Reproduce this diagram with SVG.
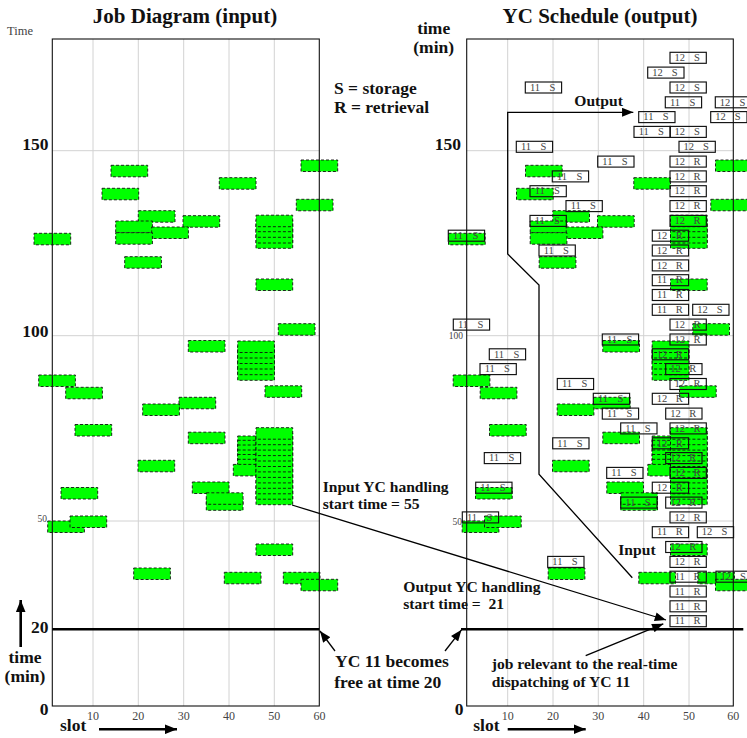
<svg xmlns="http://www.w3.org/2000/svg" xmlns:xlink="http://www.w3.org/1999/xlink" width="747" height="738" viewBox="0 0 747 738">
<style>
.t{font-family:"Liberation Serif","Times New Roman",serif;font-weight:bold;fill:#111}
.ttl{font-size:21px;text-anchor:middle}
.lg{font-size:17.5px}
.md{font-size:15.6px}
.end{text-anchor:end}
.mid{text-anchor:middle}
.sm{font-family:"Liberation Serif","Times New Roman",serif;fill:#444}
.tick{font-size:12px;text-anchor:middle}
.grid{stroke:#d2d2d2;stroke-width:1}
.frame{fill:none;stroke:#111;stroke-width:1.1}
.b{fill:#00ff00;stroke:#111;stroke-width:0.9;stroke-dasharray:3 2}
.bx{fill:none;stroke:#111;stroke-width:1.15}
.bl{font-family:"Liberation Serif","Times New Roman",serif;font-size:10.5px;fill:#444;text-anchor:middle}
.ln{fill:none;stroke:#000;stroke-width:1.3}
.thick{fill:none;stroke:#000;stroke-width:2.6}
</style>
<defs>
<marker id="ah" viewBox="0 0 10 8" refX="10" refY="4" markerWidth="12" markerHeight="9" markerUnits="userSpaceOnUse" orient="auto"><path d="M0,0L10,4L0,8z" fill="#000"/></marker>
<marker id="ahb" viewBox="0 0 10 8" refX="10" refY="4" markerWidth="12" markerHeight="10" markerUnits="userSpaceOnUse" orient="auto"><path d="M0,0L10,4L0,8z" fill="#000"/></marker>
</defs>
<rect width="747" height="738" fill="#fff"/>

<!-- grids -->
<g id="grid-left">
<path class="grid" d="M93,39V706M138.3,39V706M183.7,39V706M229,39V706M274.3,39V706M52.3,150.7H319.3M52.3,335.7H319.3M52.3,521H319.3"/>
</g>
<g id="grid-right">
<path class="grid" d="M507.7,39V706M553,39V706M598.3,39V706M643.7,39V706M689,39V706M466.7,150.7H733.3M466.7,335.7H733.3M466.7,521H733.3"/>
</g>

<!-- input jobs (green blocks) -->
<g id="jobs">
<rect class="b" width="36.7" height="11.5" x="301" y="160"/>
<rect class="b" width="36.7" height="11.5" x="111" y="165.3"/>
<rect class="b" width="36.7" height="11.5" x="219.3" y="177.7"/>
<rect class="b" width="36.7" height="11.5" x="102" y="188.3"/>
<rect class="b" width="36.7" height="11.5" x="296.3" y="199.3"/>
<rect class="b" width="36.7" height="11.5" x="138.3" y="210.7"/>
<rect class="b" width="36.7" height="11.5" x="183" y="215.7"/>
<rect class="b" width="36.7" height="11.5" x="115.7" y="221"/>
<rect class="b" width="36.7" height="11.5" x="151.7" y="227"/>
<rect class="b" width="36.7" height="11.5" x="115.7" y="232.7"/>
<rect class="b" width="36.7" height="11.5" x="34" y="233.3"/>
<rect class="b" width="36.7" height="11.5" x="256" y="236.8"/>
<rect class="b" width="36.7" height="11.5" x="256" y="231.5"/>
<rect class="b" width="36.7" height="11.5" x="256" y="225.8"/>
<rect class="b" width="36.7" height="11.5" x="256" y="220.2"/>
<rect class="b" width="36.7" height="11.5" x="256" y="215.2"/>
<rect class="b" width="36.7" height="11.5" x="124.7" y="256.7"/>
<rect class="b" width="36.7" height="11.5" x="256" y="279"/>
<rect class="b" width="36.7" height="11.5" x="278.3" y="323.7"/>
<rect class="b" width="36.7" height="11.5" x="188.3" y="340.5"/>
<rect class="b" width="36.7" height="11.5" x="237.7" y="368.8"/>
<rect class="b" width="36.7" height="11.5" x="237.7" y="363.2"/>
<rect class="b" width="36.7" height="11.5" x="237.7" y="357.5"/>
<rect class="b" width="36.7" height="11.5" x="237.7" y="352"/>
<rect class="b" width="36.7" height="11.5" x="237.7" y="346.5"/>
<rect class="b" width="36.7" height="11.5" x="237.7" y="341"/>
<rect class="b" width="36.7" height="11.5" x="38.7" y="375"/>
<rect class="b" width="36.7" height="11.5" x="65.7" y="387.3"/>
<rect class="b" width="36.7" height="11.5" x="265" y="385.8"/>
<rect class="b" width="36.7" height="11.5" x="179" y="397.3"/>
<rect class="b" width="36.7" height="11.5" x="142.7" y="404"/>
<rect class="b" width="36.7" height="11.5" x="75" y="424.5"/>
<rect class="b" width="36.7" height="11.5" x="188.3" y="432.2"/>
<rect class="b" width="36.7" height="11.5" x="237.7" y="436"/>
<rect class="b" width="36.7" height="11.5" x="237.7" y="440.3"/>
<rect class="b" width="36.7" height="11.5" x="237.7" y="445"/>
<rect class="b" width="36.7" height="11.5" x="237.7" y="450"/>
<rect class="b" width="36.7" height="11.5" x="237.7" y="454.5"/>
<rect class="b" width="36.7" height="11.5" x="237.7" y="459.3"/>
<rect class="b" width="36.7" height="11.5" x="233.3" y="464.4"/>
<rect class="b" width="36.7" height="11.5" x="256" y="493.2"/>
<rect class="b" width="36.7" height="11.5" x="256" y="487.7"/>
<rect class="b" width="36.7" height="11.5" x="256" y="482.3"/>
<rect class="b" width="36.7" height="11.5" x="256" y="476.8"/>
<rect class="b" width="36.7" height="11.5" x="256" y="471.4"/>
<rect class="b" width="36.7" height="11.5" x="256" y="465.9"/>
<rect class="b" width="36.7" height="11.5" x="256" y="460.4"/>
<rect class="b" width="36.7" height="11.5" x="256" y="455"/>
<rect class="b" width="36.7" height="11.5" x="256" y="449.5"/>
<rect class="b" width="36.7" height="11.5" x="256" y="444.1"/>
<rect class="b" width="36.7" height="11.5" x="256" y="438.6"/>
<rect class="b" width="36.7" height="11.5" x="256" y="433.2"/>
<rect class="b" width="36.7" height="11.5" x="256" y="427.7"/>
<rect class="b" width="36.7" height="11.5" x="138" y="460.3"/>
<rect class="b" width="36.7" height="11.5" x="61" y="487.5"/>
<rect class="b" width="36.7" height="11.5" x="192.3" y="482"/>
<rect class="b" width="36.7" height="11.5" x="206.3" y="498.8"/>
<rect class="b" width="36.7" height="11.5" x="206.3" y="492.8"/>
<rect class="b" width="36.7" height="11.5" x="47.7" y="521"/>
<rect class="b" width="36.7" height="11.5" x="70" y="516"/>
<rect class="b" width="36.7" height="11.5" x="256" y="544"/>
<rect class="b" width="36.7" height="11.5" x="133.7" y="568"/>
<rect class="b" width="36.7" height="11.5" x="224.3" y="572.3"/>
<rect class="b" width="36.7" height="11.5" x="283.3" y="572.3"/>
<rect class="b" width="36.7" height="11.5" x="301" y="579.3"/>
</g>
<g id="jobs-copy">
<use href="#jobs" xlink:href="#jobs" x="414.5" y="0"/>
</g>

<!-- frames -->
<g id="frame-left"><rect class="frame" x="52.3" y="39" width="267" height="667"/></g>
<g id="frame-right"><rect class="frame" x="466.7" y="39" width="266.6" height="667"/></g>

<!-- YC schedule boxes -->
<g id="schedule">
<g id="r0a" transform="translate(670,52.3)"><rect class="bx" width="36.3" height="11"/><text class="bl" x="9.7" y="8.7">12<tspan x="27">S</tspan></text></g>
<g id="r1a" transform="translate(647.7,67.1)"><rect class="bx" width="36.3" height="11"/><text class="bl" x="9.7" y="8.7">12<tspan x="27">S</tspan></text></g>
<g id="r2a" transform="translate(525.3,82)"><rect class="bx" width="36.3" height="11"/><text class="bl" x="9.7" y="8.7">11<tspan x="27">S</tspan></text></g>
<g id="r2b" transform="translate(670,82)"><rect class="bx" width="36.3" height="11"/><text class="bl" x="9.7" y="8.7">12<tspan x="27">S</tspan></text></g>
<g id="r3a" transform="translate(665.3,96.8)"><rect class="bx" width="36.3" height="11"/><text class="bl" x="9.7" y="8.7">11<tspan x="27">S</tspan></text></g>
<g id="r3b" transform="translate(715.3,96.8)"><rect class="bx" width="36.3" height="11"/><text class="bl" x="9.7" y="8.7">12<tspan x="27">S</tspan></text></g>
<g id="r4a" transform="translate(638.7,111.6)"><rect class="bx" width="36.3" height="11"/><text class="bl" x="9.7" y="8.7">11<tspan x="27">S</tspan></text></g>
<g id="r4b" transform="translate(710.7,111.6)"><rect class="bx" width="36.3" height="11"/><text class="bl" x="9.7" y="8.7">12<tspan x="27">S</tspan></text></g>
<g id="r5a" transform="translate(634,126.4)"><rect class="bx" width="36.3" height="11"/><text class="bl" x="9.7" y="8.7">11<tspan x="27">S</tspan></text></g>
<g id="r5b" transform="translate(670,126.4)"><rect class="bx" width="36.3" height="11"/><text class="bl" x="9.7" y="8.7">12<tspan x="27">S</tspan></text></g>
<g id="r6a" transform="translate(516.3,141.3)"><rect class="bx" width="36.3" height="11"/><text class="bl" x="9.7" y="8.7">11<tspan x="27">S</tspan></text></g>
<g id="r6b" transform="translate(679,141.3)"><rect class="bx" width="36.3" height="11"/><text class="bl" x="9.7" y="8.7">12<tspan x="27">S</tspan></text></g>
<g id="r7a" transform="translate(597.7,156.1)"><rect class="bx" width="36.3" height="11"/><text class="bl" x="9.7" y="8.7">11<tspan x="27">S</tspan></text></g>
<g id="r7b" transform="translate(670,156.1)"><rect class="bx" width="36.3" height="11"/><text class="bl" x="9.7" y="8.7">12<tspan x="27">R</tspan></text></g>
<g id="r8a" transform="translate(552.3,170.9)"><rect class="bx" width="36.3" height="11"/><text class="bl" x="9.7" y="8.7">11<tspan x="27">S</tspan></text></g>
<g id="r8b" transform="translate(670,170.9)"><rect class="bx" width="36.3" height="11"/><text class="bl" x="9.7" y="8.7">12<tspan x="27">R</tspan></text></g>
<g id="r9a" transform="translate(530,185.7)"><rect class="bx" width="36.3" height="11"/><text class="bl" x="9.7" y="8.7">11<tspan x="27">S</tspan></text></g>
<g id="r9b" transform="translate(670,185.7)"><rect class="bx" width="36.3" height="11"/><text class="bl" x="9.7" y="8.7">12<tspan x="27">R</tspan></text></g>
<g id="r10a" transform="translate(566,200.6)"><rect class="bx" width="36.3" height="11"/><text class="bl" x="9.7" y="8.7">11<tspan x="27">S</tspan></text></g>
<g id="r10b" transform="translate(670,200.6)"><rect class="bx" width="36.3" height="11"/><text class="bl" x="9.7" y="8.7">12<tspan x="27">R</tspan></text></g>
<g id="r11a" transform="translate(530,215.4)"><rect class="bx" width="36.3" height="11"/><text class="bl" x="9.7" y="8.7">11<tspan x="27">S</tspan></text></g>
<g id="r11b" transform="translate(670,215.4)"><rect class="bx" width="36.3" height="11"/><text class="bl" x="9.7" y="8.7">12<tspan x="27">R</tspan></text></g>
<g id="r12a" transform="translate(448.3,230.2)"><rect class="bx" width="36.3" height="11"/><text class="bl" x="9.7" y="8.7">11<tspan x="27">S</tspan></text></g>
<g id="r12b" transform="translate(652.3,230.2)"><rect class="bx" width="36.3" height="11"/><text class="bl" x="9.7" y="8.7">12<tspan x="27">R</tspan></text></g>
<g id="r13a" transform="translate(539,245)"><rect class="bx" width="36.3" height="11"/><text class="bl" x="9.7" y="8.7">11<tspan x="27">S</tspan></text></g>
<g id="r13b" transform="translate(652.3,245)"><rect class="bx" width="36.3" height="11"/><text class="bl" x="9.7" y="8.7">12<tspan x="27">R</tspan></text></g>
<g id="r14a" transform="translate(652.3,259.9)"><rect class="bx" width="36.3" height="11"/><text class="bl" x="9.7" y="8.7">12<tspan x="27">R</tspan></text></g>
<g id="r15a" transform="translate(652.3,274.7)"><rect class="bx" width="36.3" height="11"/><text class="bl" x="9.7" y="8.7">11<tspan x="27">R</tspan></text></g>
<g id="r16a" transform="translate(652.3,289.5)"><rect class="bx" width="36.3" height="11"/><text class="bl" x="9.7" y="8.7">11<tspan x="27">R</tspan></text></g>
<g id="r17a" transform="translate(652.3,304.3)"><rect class="bx" width="36.3" height="11"/><text class="bl" x="9.7" y="8.7">11<tspan x="27">R</tspan></text></g>
<g id="r17b" transform="translate(692.7,304.3)"><rect class="bx" width="36.3" height="11"/><text class="bl" x="9.7" y="8.7">12<tspan x="27">S</tspan></text></g>
<g id="r18a" transform="translate(453.3,319.1)"><rect class="bx" width="36.3" height="11"/><text class="bl" x="9.7" y="8.7">11<tspan x="27">S</tspan></text></g>
<g id="r18b" transform="translate(670,319.1)"><rect class="bx" width="36.3" height="11"/><text class="bl" x="9.7" y="8.7">12<tspan x="27">R</tspan></text></g>
<g id="r19a" transform="translate(602.3,334)"><rect class="bx" width="36.3" height="11"/><text class="bl" x="9.7" y="8.7">11<tspan x="27">S</tspan></text></g>
<g id="r19b" transform="translate(670,334)"><rect class="bx" width="36.3" height="11"/><text class="bl" x="9.7" y="8.7">12<tspan x="27">R</tspan></text></g>
<g id="r20a" transform="translate(489.3,348.8)"><rect class="bx" width="36.3" height="11"/><text class="bl" x="9.7" y="8.7">11<tspan x="27">S</tspan></text></g>
<g id="r20b" transform="translate(652.3,348.8)"><rect class="bx" width="36.3" height="11"/><text class="bl" x="9.7" y="8.7">12<tspan x="27">R</tspan></text></g>
<g id="r21a" transform="translate(480,363.6)"><rect class="bx" width="36.3" height="11"/><text class="bl" x="9.7" y="8.7">11<tspan x="27">S</tspan></text></g>
<g id="r21b" transform="translate(665.7,363.6)"><rect class="bx" width="36.3" height="11"/><text class="bl" x="9.7" y="8.7">12<tspan x="27">R</tspan></text></g>
<g id="r22a" transform="translate(557.3,378.5)"><rect class="bx" width="36.3" height="11"/><text class="bl" x="9.7" y="8.7">11<tspan x="27">S</tspan></text></g>
<g id="r22b" transform="translate(670,378.5)"><rect class="bx" width="36.3" height="11"/><text class="bl" x="9.7" y="8.7">12<tspan x="27">R</tspan></text></g>
<g id="r23a" transform="translate(593.3,393.3)"><rect class="bx" width="36.3" height="11"/><text class="bl" x="9.7" y="8.7">11<tspan x="27">S</tspan></text></g>
<g id="r23b" transform="translate(652.3,393.3)"><rect class="bx" width="36.3" height="11"/><text class="bl" x="9.7" y="8.7">12<tspan x="27">R</tspan></text></g>
<g id="r24a" transform="translate(602.3,408.1)"><rect class="bx" width="36.3" height="11"/><text class="bl" x="9.7" y="8.7">11<tspan x="27">S</tspan></text></g>
<g id="r24b" transform="translate(665.7,408.1)"><rect class="bx" width="36.3" height="11"/><text class="bl" x="9.7" y="8.7">12<tspan x="27">R</tspan></text></g>
<g id="r25a" transform="translate(620.7,422.9)"><rect class="bx" width="36.3" height="11"/><text class="bl" x="9.7" y="8.7">11<tspan x="27">S</tspan></text></g>
<g id="r25b" transform="translate(670,422.9)"><rect class="bx" width="36.3" height="11"/><text class="bl" x="9.7" y="8.7">12<tspan x="27">R</tspan></text></g>
<g id="r26a" transform="translate(552.7,437.8)"><rect class="bx" width="36.3" height="11"/><text class="bl" x="9.7" y="8.7">11<tspan x="27">S</tspan></text></g>
<g id="r26b" transform="translate(652.3,437.8)"><rect class="bx" width="36.3" height="11"/><text class="bl" x="9.7" y="8.7">12<tspan x="27">R</tspan></text></g>
<g id="r27a" transform="translate(484.3,452.6)"><rect class="bx" width="36.3" height="11"/><text class="bl" x="9.7" y="8.7">11<tspan x="27">S</tspan></text></g>
<g id="r27b" transform="translate(665.7,452.6)"><rect class="bx" width="36.3" height="11"/><text class="bl" x="9.7" y="8.7">12<tspan x="27">R</tspan></text></g>
<g id="r28a" transform="translate(606.7,467.4)"><rect class="bx" width="36.3" height="11"/><text class="bl" x="9.7" y="8.7">11<tspan x="27">S</tspan></text></g>
<g id="r28b" transform="translate(670,467.4)"><rect class="bx" width="36.3" height="11"/><text class="bl" x="9.7" y="8.7">12<tspan x="27">R</tspan></text></g>
<g id="r29a" transform="translate(475.7,482.2)"><rect class="bx" width="36.3" height="11"/><text class="bl" x="9.7" y="8.7">11<tspan x="27">S</tspan></text></g>
<g id="r29b" transform="translate(652.3,482.2)"><rect class="bx" width="36.3" height="11"/><text class="bl" x="9.7" y="8.7">12<tspan x="27">R</tspan></text></g>
<g id="r30a" transform="translate(620.7,497.1)"><rect class="bx" width="36.3" height="11"/><text class="bl" x="9.7" y="8.7">11<tspan x="27">S</tspan></text></g>
<g id="r30b" transform="translate(665.7,497.1)"><rect class="bx" width="36.3" height="11"/><text class="bl" x="9.7" y="8.7">12<tspan x="27">R</tspan></text></g>
<g id="r31a" transform="translate(462.3,511.9)"><rect class="bx" width="36.3" height="11"/><text class="bl" x="9.7" y="8.7">11<tspan x="27">S</tspan></text></g>
<g id="r31b" transform="translate(670,511.9)"><rect class="bx" width="36.3" height="11"/><text class="bl" x="9.7" y="8.7">12<tspan x="27">R</tspan></text></g>
<g id="r32a" transform="translate(652.3,526.7)"><rect class="bx" width="36.3" height="11"/><text class="bl" x="9.7" y="8.7">11<tspan x="27">R</tspan></text></g>
<g id="r32b" transform="translate(697.3,526.7)"><rect class="bx" width="36.3" height="11"/><text class="bl" x="9.7" y="8.7">12<tspan x="27">S</tspan></text></g>
<g id="r33a" transform="translate(665.7,541.5)"><rect class="bx" width="36.3" height="11"/><text class="bl" x="9.7" y="8.7">12<tspan x="27">R</tspan></text></g>
<g id="r34a" transform="translate(547.7,556.4)"><rect class="bx" width="36.3" height="11"/><text class="bl" x="9.7" y="8.7">11<tspan x="27">S</tspan></text></g>
<g id="r34b" transform="translate(670,556.4)"><rect class="bx" width="36.3" height="11"/><text class="bl" x="9.7" y="8.7">12<tspan x="27">R</tspan></text></g>
<g id="r35a" transform="translate(670,571.2)"><rect class="bx" width="36.3" height="11"/><text class="bl" x="9.7" y="8.7">11<tspan x="27">R</tspan></text></g>
<g id="r35b" transform="translate(716,571.2)"><rect class="bx" width="36.3" height="11"/><text class="bl" x="9.7" y="8.7">12<tspan x="27">S</tspan></text></g>
<g id="r36a" transform="translate(670,586)"><rect class="bx" width="36.3" height="11"/><text class="bl" x="9.7" y="8.7">11<tspan x="27">R</tspan></text></g>
<g id="r37a" transform="translate(670,600.8)"><rect class="bx" width="36.3" height="11"/><text class="bl" x="9.7" y="8.7">11<tspan x="27">R</tspan></text></g>
<g id="r38a" transform="translate(670,615.7)"><rect class="bx" width="36.3" height="11"/><text class="bl" x="9.7" y="8.7">11<tspan x="27">R</tspan></text></g>
</g>

<!-- connectors -->
<g id="connectors">
<path id="time20-left" class="thick" d="M52.3,629.3H319.3"/>
<path id="time20-right" class="thick" d="M461,629.3H743.3"/>
<path id="time-axis-arrow" class="thick" d="M20.7,647V600" marker-end="url(#ahb)"/>
<path id="slot-arrow-left" class="thick" d="M99,729.3H177" marker-end="url(#ahb)"/>
<path id="slot-arrow-right" class="thick" d="M507.7,729.3H585.7" marker-end="url(#ahb)"/>
<path id="free-arrow-left" class="ln" d="M335,651L320,631" marker-end="url(#ah)"/>
<path id="free-arrow-right" class="ln" d="M445,651L461.5,629.8" marker-end="url(#ah)"/>
<path id="input-arrow" class="ln" d="M292,505L666,620" marker-end="url(#ah)"/>
<path id="relevant-arrow" class="ln" d="M585.7,655.7L663.3,623.8" marker-end="url(#ah)"/>
<path id="flow-arrow" class="ln" d="M632.3,577.7L539,474.3L539,285L507.7,254L507.7,112.3L633.3,112.3" marker-end="url(#ah)"/>
</g>

<!-- labels -->
<g id="labels">
<text class="t ttl" x="185" y="23">Job Diagram (input)</text>
<text class="t ttl" x="600" y="23">YC Schedule (output)</text>
<text class="sm" x="7" y="35" font-size="12.5">Time</text>
<text class="t lg" x="334" y="94">S = storage</text>
<text class="t lg" x="334" y="113">R = retrieval</text>
<text class="t lg end" x="48.5" y="150">150</text>
<text class="t lg end" x="48.5" y="337">100</text>
<text class="sm end" x="47" y="521.5" font-size="9.5">50</text>
<text class="t lg end" x="48.5" y="633">20</text>
<text class="t lg end" x="48.5" y="715">0</text>
<text class="t lg mid" x="25" y="663">time</text>
<text class="t lg mid" x="25" y="682">(min)</text>
<text class="t lg" x="60" y="731">slot</text>
<text class="sm tick" x="93" y="720">10</text>
<text class="sm tick" x="138.3" y="720">20</text>
<text class="sm tick" x="183.7" y="720">30</text>
<text class="sm tick" x="229" y="720">40</text>
<text class="sm tick" x="274.3" y="720">50</text>
<text class="sm tick" x="319.5" y="720">60</text>
<text class="t lg mid" x="433.7" y="34">time</text>
<text class="t lg mid" x="433.7" y="53">(min)</text>
<text class="t lg end" x="461" y="149.5">150</text>
<text class="sm end" x="463" y="339" font-size="9.5">100</text>
<text class="sm end" x="462" y="524.5" font-size="9.5">50</text>
<text class="t lg end" x="463.5" y="715">0</text>
<text class="t lg" x="473.3" y="731">slot</text>
<text class="sm tick" x="507.7" y="720">10</text>
<text class="sm tick" x="553" y="720">20</text>
<text class="sm tick" x="598.3" y="720">30</text>
<text class="sm tick" x="643.7" y="720">40</text>
<text class="sm tick" x="689" y="720">50</text>
<text class="sm tick" x="733.3" y="720">60</text>
<text class="t md" x="574.3" y="106">Output</text>
<text class="t md" x="618.3" y="555">Input</text>
<text class="t md" x="322.7" y="491.5">Input YC handling</text>
<text class="t md" x="322.7" y="508.5">start time = 55</text>
<text class="t md" x="403.3" y="592.3">Output YC handling</text>
<text class="t md" x="403.3" y="609.3" xml:space="preserve">start time =  21</text>
<text class="t lg" x="335" y="666.7">YC 11 becomes</text>
<text class="t lg" x="334.3" y="687.7">free at time 20</text>
<text class="t md" x="491.7" y="669.3">job relevant to the real-time</text>
<text class="t md" x="491.7" y="686.7">dispatching of YC 11</text>
</g>
</svg>
